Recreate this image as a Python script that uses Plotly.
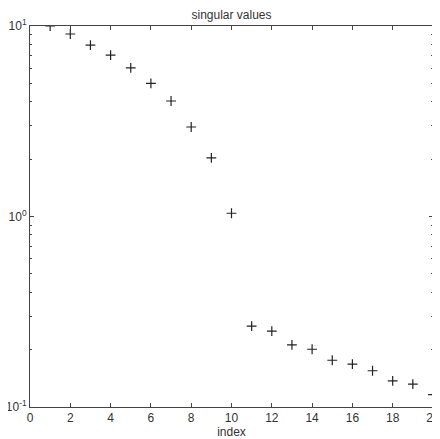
import plotly.graph_objects as go

index = list(range(1, 21))
singular_values = [10.0, 9.08, 7.94, 7.04, 6.03, 5.0, 4.04, 2.95, 2.03, 1.04,
                   0.266, 0.25, 0.212, 0.201, 0.176, 0.168, 0.155, 0.137, 0.132, 0.116]
y_tick_vals = [0.1, 1, 10]
y_tick_text = ["10<sup>-1</sup>", "10<sup>0</sup>", "10<sup>1</sup>"]
y_minor_vals = [0.2, 0.3, 0.4, 0.5, 0.6, 0.7, 0.8, 0.9, 2, 3, 4, 5, 6, 7, 8, 9]

FONT = "Liberation Sans, Arial, sans-serif"

fig = go.Figure()
fig.add_trace(go.Scatter(
    x=index, y=singular_values, mode="markers",
    marker=dict(symbol="cross-thin", size=7, line=dict(width=1.2, color="#222"), color="#222"),
    showlegend=False,
))

axis_common = dict(showline=True, linecolor="#444", linewidth=1, mirror="ticks",
                   ticks="inside", ticklen=4, tickcolor="#444", showgrid=False, zeroline=False,
                   automargin=False,
                   tickfont=dict(family=FONT, size=12, color="#333"))

fig.update_xaxes(range=[0, 20], dtick=2, tick0=0,
                 title=dict(text="index", font=dict(family=FONT, size=12, color="#333"), standoff=0),
                 **axis_common)
fig.update_yaxes(type="log", range=[-1, 1], tickvals=y_tick_vals, ticktext=y_tick_text,
                 minor=dict(ticks="inside", ticklen=2, tickcolor="#444", showgrid=False,
                            tickvals=y_minor_vals),
                 **axis_common)

# the page body adds an 8px offset, so the figure is sized to fit the window
fig.update_layout(
    width=432, height=431,
    margin=dict(l=22, r=7, t=18, b=32),
    paper_bgcolor="white", plot_bgcolor="white",
    title=dict(text="singular values", x=0.5, xref="paper", xanchor="center", y=0.995, yanchor="top",
               font=dict(family=FONT, size=12, color="#333")),
)

fig.write_html("out.html")
